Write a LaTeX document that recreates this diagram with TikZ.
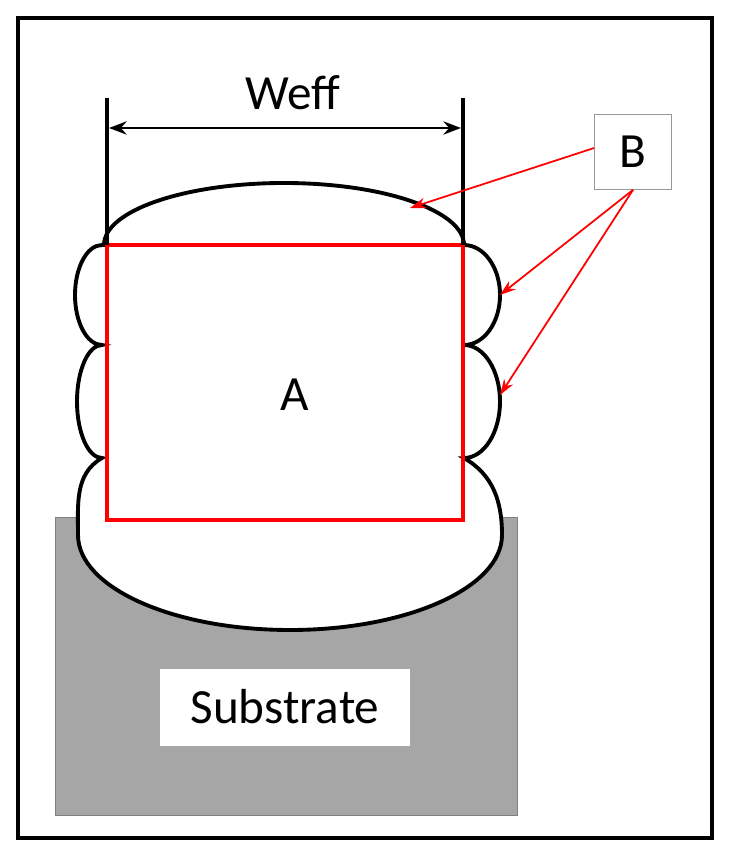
\documentclass[tikz,border=0pt]{standalone}
\usepackage{fontspec}
\setmainfont{Carlito}
\usetikzlibrary{arrows.meta}
\definecolor{subgray}{HTML}{A6A6A6}
\begin{document}
\begin{tikzpicture}[x=0.02cm, y=-0.02cm, every node/.style={font=\fontsize{28}{32}\selectfont}]
    % Styles
    \tikzstyle{frame} = [draw=black, line width=2.4pt]
    \tikzstyle{bead} = [draw=black, fill=white, line width=2.2pt]
    \tikzstyle{area} = [draw=red, line width=2.2pt]
    \tikzstyle{pointer} = [red, line width=1pt, -{Stealth[length=9pt,width=6pt]}]
    \tikzstyle{tag} = [draw=black!40, fill=white, inner sep=0pt]

    \useasboundingbox (0,0) rectangle (733,857);
    \draw [frame] (18,18) rectangle (712,838);

    % Substrate
    \fill [subgray, draw=black!50] (55,517) rectangle (517,815);
    \node (sub) [tag, draw=none, minimum width=250*0.02cm, minimum height=77*0.02cm] at (285,707) {Substrate};

    % Bead outline
    \draw [bead] (104,245) arc[start angle=180, end angle=360, x radius=180, y radius=62]
      arc[start angle=-90, end angle=90, x radius=36, y radius=50]
      arc[start angle=-90, end angle=90, x radius=36, y radius=56.5]
      to[out=-30,in=90] (502,535)
      arc[start angle=0, end angle=180, x radius=212, y radius=95]
      to[out=90,in=-150] (102,458)
      arc[start angle=90, end angle=270, x radius=25, y radius=56.5]
      arc[start angle=90, end angle=270, x radius=27, y radius=50] -- cycle;

    % Effective area
    \draw [area] (107,245) rectangle (463,520);
    \node (a) at (295,395) {A};

    % Width
    \coordinate (wl) at (107,98);
    \coordinate (wr) at (463,98);
    \draw [line width=2.2pt] (wl) -- (107,245);
    \draw [line width=2.2pt] (wr) -- (463,245);
    \draw [line width=1.6pt, {Stealth[length=10pt]}-{Stealth[length=10pt]}] (109,128) -- (461,128);
    \node (weff) at (293,93) {Weff};

    % Label B
    \node (b) [tag, minimum width=77*0.02cm, minimum height=75*0.02cm] at (633,152) {B};
    \coordinate (p1) at (410,208);
    \coordinate (p2) at (500,295);
    \coordinate (p3) at (500,395);
    \draw [pointer] (b.west) ++(0,-4) -- (p1);
    \draw [pointer] (b.south) -- (p2);
    \draw [pointer] (b.south) -- (p3);
\end{tikzpicture}
\end{document}
